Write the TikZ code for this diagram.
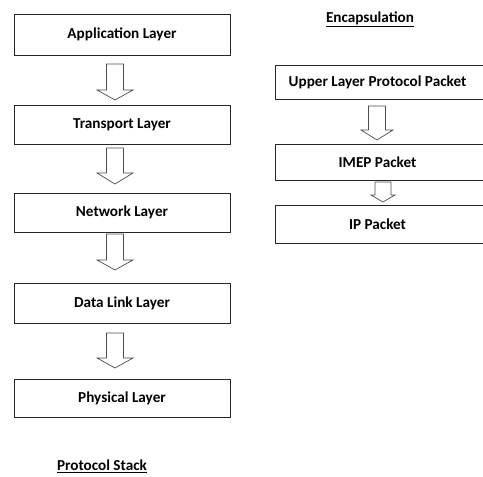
\documentclass[tikz,border=0pt]{standalone}
\usepackage{fontspec}
\setmainfont{Carlito}
\usetikzlibrary{positioning,calc}

\tikzset{
  layerbox/.style={draw=black!85, line width=.8pt, minimum height=#1, inner sep=0pt, font=\bfseries\fontsize{15.2}{17}\selectfont},
  layerbox/.default=38,
  blockarrow/.style={draw=black!70, line width=.7pt, line join=miter},
  caption/.style={font=\bfseries\fontsize{15.2}{17}\selectfont, inner sep=0pt}
}
% hollow down arrow: centre x, top y, start of head, tip y, shaft half, head half
\newcommand\hollowarrow[6]{%
  \draw[blockarrow] (#1-#5,#2) -- (#1+#5,#2) -- (#1+#5,#3) -- (#1+#6,#3) -- (#1,#4)
    -- (#1-#6,#3) -- (#1-#5,#3) -- cycle;}

\begin{document}
\begin{tikzpicture}[x=1pt,y=-1pt]
  \useasboundingbox (0,0) rectangle (483,477);
  % protocol stack
  \node[layerbox=41, minimum width=216] (app)   at (122,34.5) {Application Layer};
  \node[layerbox=39, minimum width=216] (trans) at (122,125) {Transport Layer};
  \node[layerbox=39, minimum width=216] (net)   at (122,212.5) {Network Layer};
  \node[layerbox=40, minimum width=216] (link)  at (122,303.5) {Data Link Layer};
  \node[layerbox=38, minimum width=216] (phys)  at (122,398) {Physical Layer};
  \hollowarrow{115}{64}{90}{100}{8.5}{18}
  \hollowarrow{115}{148}{173}{184}{8.5}{18}
  \hollowarrow{115}{234}{260}{270}{8.5}{18}
  \hollowarrow{115}{333}{358}{368}{8.5}{18}
  \node[caption] (stack) at (102,466) {\underline{Protocol Stack}};
  % encapsulation
  \node[caption] (encap) at (370,19) {\underline{Encapsulation}};
  \node[layerbox=34, minimum width=211] (upper) at (380.5,82)  {\hspace*{-6pt}Upper Layer Protocol Packet};
  \node[layerbox=36, minimum width=211] (imep)  at (380.5,162) {\hspace*{-6pt}IMEP Packet};
  \node[layerbox=38, minimum width=211] (ip)    at (380.5,224) {\hspace*{-6pt}IP Packet};
  \hollowarrow{377}{106}{130}{140}{8.5}{16}
  \hollowarrow{383}{182}{195}{202}{8}{12}
\end{tikzpicture}
\end{document}
